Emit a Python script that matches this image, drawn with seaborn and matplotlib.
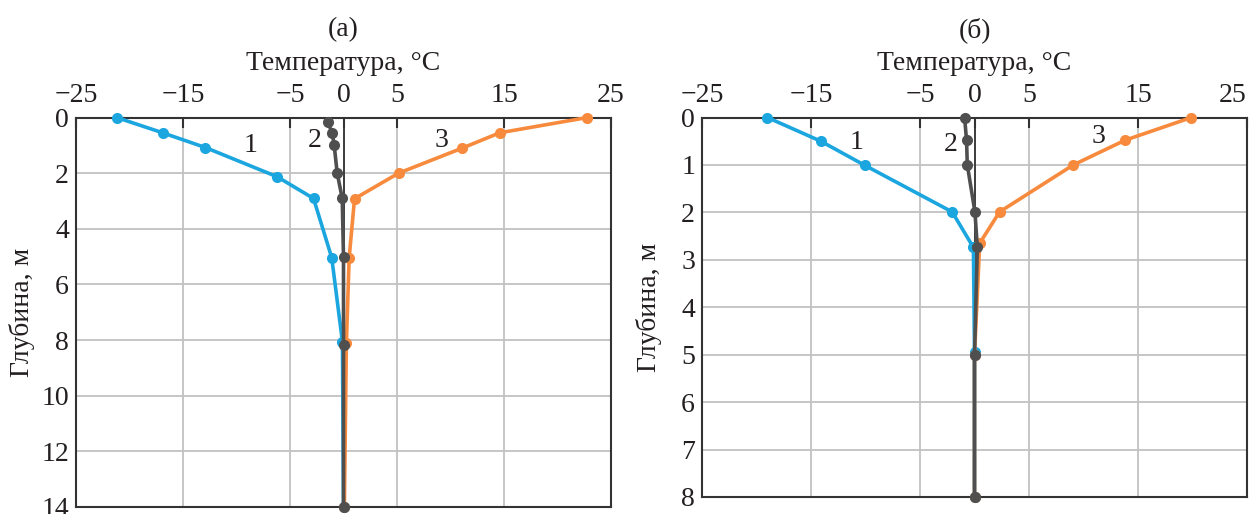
import matplotlib
matplotlib.use("Agg")
import matplotlib.pyplot as plt
import seaborn as sns
import pandas as pd

# ---------------- data ----------------
# panel (а): temperature (°C) vs depth (m)
a_t1 = [-21.2, -16.9, -12.9, -6.2, -2.8, -1.1, -0.1, 0.0]
a_d1 = [0.0, 0.55, 1.08, 2.13, 2.91, 5.04, 8.06, 14.0]
a_t2 = [-1.47, -1.06, -0.87, -0.59, -0.12, 0.0, 0.0, 0.0]
a_d2 = [0.17, 0.55, 1.0, 2.0, 2.9, 5.02, 8.18, 14.0]
a_t3 = [22.8, 14.6, 11.1, 5.15, 1.03, 0.53, 0.27, 0.08]
a_d3 = [0.0, 0.55, 1.1, 2.0, 2.92, 5.04, 8.1, 14.0]

# panel (б)
b_t1 = [-19.0, -14.1, -10.05, -2.05, -0.1, 0.0, 0.0]
b_d1 = [0.0, 0.5, 1.01, 1.99, 2.74, 4.94, 8.0]
b_t2 = [-0.91, -0.73, -0.66, 0.04, 0.26, 0.0, 0.0]
b_d2 = [0.0, 0.48, 1.0, 1.99, 2.74, 5.01, 8.0]
b_t3 = [19.9, 13.8, 9.06, 2.3, 0.48, 0.0, 0.0]
b_d3 = [0.0, 0.48, 1.0, 1.99, 2.65, 5.0, 8.0]

x_ticks = [-25, -15, -5, 0, 5, 15, 25]
a_y_ticks = [0, 2, 4, 6, 8, 10, 12, 14]
b_y_ticks = [0, 1, 2, 3, 4, 5, 6, 7, 8]

curve_labels = ["1", "2", "3"]
a_label_pos = [(-8.7, 1.0), (-2.7, 0.82), (9.2, 0.83)]
b_label_pos = [(-10.8, 0.52), (-2.2, 0.57), (11.4, 0.41)]

panel_titles = ["(а)", "(б)"]
x_title = "Температура, °C"
y_title = "Глубина, м"

# ---------------- style ----------------
sns.set_style("white")
plt.rcParams["font.family"] = ["Liberation Serif", "DejaVu Serif"]
plt.rcParams["axes.unicode_minus"] = True

TXT = "#231f20"
COLORS = {"1": "#1ba6df", "2": "#4f4f4f", "3": "#f78a3c"}
FS = 20

fig = plt.figure(figsize=(12.54, 5.14), dpi=100)
W, H = 1254, 514
ax_a = fig.add_axes([76 / W, 1 - 507 / H, 535 / W, (507 - 117.5) / H])
ax_b = fig.add_axes([702 / W, 1 - 497 / H, 545 / W, (497 - 117.5) / H])


def make_df(ts, ds):
    rows = []
    for name, t, d in zip(curve_labels, ts, ds):
        for i, (tv, dv) in enumerate(zip(t, d)):
            rows.append({"curve": name, "T": tv, "depth": dv, "order": i})
    return pd.DataFrame(rows)


def draw(ax, df, ymax, yticks, label_pos, title, ylab_x):
    for name in ["1", "3", "2"]:
        sub = df[df["curve"] == name]
        sns.lineplot(data=sub, x="T", y="depth", sort=False, estimator=None,
                     color=COLORS[name], lw=2.6, marker="o", markersize=8,
                     markeredgewidth=0, ax=ax, clip_on=False, zorder=3)
    ax.axvline(0, color="#333333", lw=1.3, zorder=2)
    ax.set_xlim(-25, 25)
    ax.set_ylim(ymax, 0)
    ax.set_xticks(x_ticks)
    ax.set_yticks(yticks)
    ax.xaxis.tick_top()
    ax.xaxis.set_label_position("top")
    ax.grid(True, color="#c2c2c2", lw=1.3, zorder=1)
    ax.set_axisbelow(True)
    ax.tick_params(axis="both", direction="in", length=7, width=1.5,
                   colors="#333333", labelcolor=TXT, labelsize=FS)
    ax.tick_params(axis="x", pad=7)
    ax.tick_params(axis="y", pad=5)
    for sp in ax.spines.values():
        sp.set_visible(True)
        sp.set_color("#333333")
        sp.set_linewidth(1.5)
    ax.set_xlabel(x_title, fontsize=FS, color=TXT, labelpad=9)
    h_px = ax.get_position().height * H
    w_px = ax.get_position().width * W
    ax.set_ylabel(y_title, fontsize=FS, color=TXT)
    ax.yaxis.set_label_coords(ylab_x / w_px, 0.5)
    for name, (tx, ty) in zip(curve_labels, label_pos):
        ax.text(tx, ty, name, fontsize=FS, color=TXT, ha="center", va="center",
                zorder=4)
    ax.text(0.5, 1 + (117.5 - 30) / h_px, title, transform=ax.transAxes,
            fontsize=FS, color=TXT, ha="center", va="center")


draw(ax_a, make_df([a_t1, a_t2, a_t3], [a_d1, a_d2, a_d3]), 14, a_y_ticks,
     a_label_pos, panel_titles[0], -41)
draw(ax_b, make_df([b_t1, b_t2, b_t3], [b_d1, b_d2, b_d3]), 8, b_y_ticks,
     b_label_pos, panel_titles[1], -40)

# last x tick label of panel (б) sits inside the figure edge
ax_b.get_xticklabels()[-1].set_horizontalalignment("right")

fig.savefig("out.png", dpi=100)
